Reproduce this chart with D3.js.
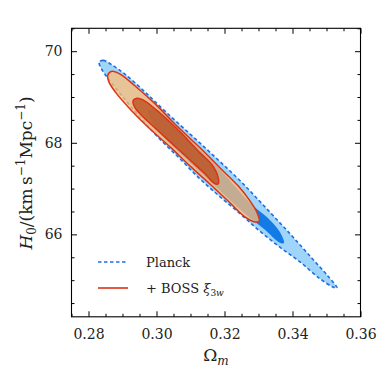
<!DOCTYPE html>
<html>
  <head>
    <meta charset="utf-8">
    <title></title>
    <style>
      body {
        margin: 0;
        background: #fff;
      }
      svg {
        display: block;
        font-family: "DejaVu Serif", "Liberation Serif", serif;
      }
      .axis .domain {
        stroke: none;
      }
      .axis line {
        stroke: #000;
      }
      .axis text {
        font-size: 14px;
        fill: #222;
        font-family: "DejaVu Serif", "Liberation Serif", serif;
      }
    </style>
  </head>
  <body>
    <div class="chart"></div>
    <script src="https://cdn.jsdelivr.net/npm/d3@7"></script>
    <script>

      // contour outlines, [Omega_m, H0]
      let planckOuter = [[0.2831,69.76],[0.2843,69.80],[0.2869,69.70],[0.2907,69.50],[0.2966,69.11],[0.3025,68.69],
        [0.3099,68.19],[0.3172,67.69],[0.3246,67.17],[0.3319,66.60],[0.3393,66.01],[0.3457,65.48],[0.3504,65.09],
        [0.3531,64.83],[0.3519,64.85],[0.3481,65.03],[0.3422,65.40],[0.3363,65.72],[0.3304,66.07],[0.3246,66.45],
        [0.3187,66.82],[0.3128,67.21],[0.3069,67.65],[0.3010,68.08],[0.2951,68.56],[0.2899,69.02],[0.2857,69.41],
        [0.2837,69.63]];
      let planckInner = [[0.2975,68.72],[0.3010,68.67],[0.3099,68.06],[0.3187,67.41],[0.3275,66.69],[0.3334,66.31],
        [0.3363,66.05],[0.3375,65.81],[0.3360,65.83],[0.3319,66.10],[0.3260,66.45],[0.3187,66.95],[0.3099,67.56],
        [0.3025,68.10],[0.2987,68.45]];
      let bossOuter = [[0.2857,69.48],[0.2869,69.56],[0.2893,69.50],[0.2937,69.24],[0.2996,68.85],[0.3054,68.41],
        [0.3128,67.89],[0.3187,67.45],[0.3240,67.06],[0.3275,66.73],[0.3296,66.47],[0.3302,66.29],[0.3290,66.27],
        [0.3260,66.38],[0.3216,66.69],[0.3157,67.10],[0.3099,67.49],[0.3040,67.91],[0.2981,68.30],[0.2922,68.74],
        [0.2881,69.09],[0.2860,69.33]];
      let bossInner = [[0.2931,68.91],[0.2943,68.97],[0.2966,68.91],[0.3010,68.65],[0.3069,68.24],[0.3128,67.78],
        [0.3163,67.52],[0.3181,67.25],[0.3181,67.10],[0.3169,67.12],[0.3143,67.32],[0.3099,67.62],[0.3040,68.02],
        [0.2996,68.32],[0.2957,68.59],[0.2937,68.76]];

      let xMajor = [0.28, 0.30, 0.32, 0.34, 0.36];
      let xMinor = [0.275, 0.285, 0.29, 0.295, 0.305, 0.31, 0.315, 0.325, 0.33, 0.335, 0.345, 0.35, 0.355];
      let yMajor = [66, 68, 70];
      let yMinor = [64.5, 65, 65.5, 66.5, 67, 67.5, 68.5, 69, 69.5, 70.5];

      let legendNames = ['Planck', '+ BOSS '];

      let elWidth = 390, elHeight = 390;
      let margin = {top: 28.3, right: 29.5, bottom: 73.2, left: 71.5};
      let width = elWidth - margin.left - margin.right;
      let height = elHeight - margin.top - margin.bottom;

      let svg = d3.select('.chart').append('svg')
        .attr('width', elWidth)
        .attr('height', elHeight);

      let g = svg.append('g').attr('transform', 'translate(' + margin.left + ',' + margin.top + ')');

      let x = d3.scaleLinear().domain([0.275, 0.36]).range([0, width]);
      let y = d3.scaleLinear().domain([64.2, 70.5]).range([height, 0]);

      let line = d3.line()
        .x(function(d) { return x(d[0]); })
        .y(function(d) { return y(d[1]); })
        .curve(d3.curveCatmullRomClosed.alpha(0.5));

      // Planck
      g.append('path').datum(planckOuter)
        .attr('fill', '#9fd5fa')
        .attr('d', line);
      g.append('path').datum(planckInner)
        .attr('fill', '#147ae6')
        .attr('d', line);
      g.append('path').datum(planckOuter)
        .attr('fill', 'none')
        .attr('stroke', '#1f6fe0')
        .attr('stroke-width', 1.6)
        .attr('stroke-dasharray', '3.5,2.5')
        .attr('d', line);

      // Planck + BOSS
      g.append('path').datum(bossOuter)
        .attr('fill', '#ffbe75')
        .attr('fill-opacity', 0.75)
        .attr('stroke', '#dd3214')
        .attr('stroke-width', 1.5)
        .attr('d', line);
      g.append('path').datum(bossInner)
        .attr('fill', '#bd5120')
        .attr('fill-opacity', 0.8)
        .attr('stroke', '#dd3214')
        .attr('stroke-width', 1.5)
        .attr('d', line);

      // axes, ticks pointing in
      g.append('g')
        .attr('class', 'axis')
        .attr('transform', 'translate(0,' + height + ')')
        .call(d3.axisBottom(x).tickValues(xMajor).tickSize(-5.5).tickPadding(12).tickFormat(d3.format('.2f')));
      g.append('g')
        .attr('class', 'axis')
        .attr('transform', 'translate(0,' + height + ')')
        .call(d3.axisBottom(x).tickValues(xMinor).tickSize(-3).tickFormat(''));
      g.append('g')
        .attr('class', 'axis')
        .call(d3.axisTop(x).tickValues(xMajor).tickSize(-5.5).tickFormat(''));
      g.append('g')
        .attr('class', 'axis')
        .call(d3.axisTop(x).tickValues(xMinor).tickSize(-3).tickFormat(''));

      g.append('g')
        .attr('class', 'axis')
        .call(d3.axisLeft(y).tickValues(yMajor).tickSize(-5.5).tickPadding(9).tickFormat(d3.format('d')));
      g.append('g')
        .attr('class', 'axis')
        .call(d3.axisLeft(y).tickValues(yMinor).tickSize(-3).tickFormat(''));
      g.append('g')
        .attr('class', 'axis')
        .attr('transform', 'translate(' + width + ',0)')
        .call(d3.axisRight(y).tickValues(yMajor).tickSize(-5.5).tickFormat(''));
      g.append('g')
        .attr('class', 'axis')
        .attr('transform', 'translate(' + width + ',0)')
        .call(d3.axisRight(y).tickValues(yMinor).tickSize(-3).tickFormat(''));

      g.append('rect')
        .attr('width', width)
        .attr('height', height)
        .attr('fill', 'none')
        .attr('stroke', '#000')
        .attr('stroke-width', 1.1);

      // axis labels
      let xl = svg.append('text')
        .attr('x', margin.left + width / 2)
        .attr('y', 361)
        .attr('text-anchor', 'middle')
        .attr('font-size', 17)
        .attr('fill', '#222');
      xl.append('tspan').text('Ω');
      xl.append('tspan').attr('font-style', 'italic').attr('font-size', 12).attr('dy', 4).text('m');

      let yl = svg.append('text')
        .attr('transform', 'translate(32,' + 173 + ') rotate(-90)')
        .attr('text-anchor', 'middle')
        .attr('font-size', 17)
        .attr('fill', '#222');
      yl.append('tspan').attr('font-style', 'italic').text('H');
      yl.append('tspan').attr('font-size', 12).attr('dy', 4).text('0');
      yl.append('tspan').attr('dy', -4).text('/(km\u2009s');
      yl.append('tspan').attr('font-size', 12).attr('dy', -7).text('\u22121');
      yl.append('tspan').attr('dy', 7).text('Mpc');
      yl.append('tspan').attr('font-size', 12).attr('dy', -7).text('\u22121');
      yl.append('tspan').attr('dy', 7).text(')');

      // legend
      let legend = g.append('g').attr('transform', 'translate(' + (98 - margin.left) + ',' + (262 - margin.top) + ')');
      legend.append('line')
        .attr('x1', 0).attr('x2', 30)
        .attr('stroke', '#1f6fe0')
        .attr('stroke-width', 1.6)
        .attr('stroke-dasharray', '3.5,2.5');
      legend.append('line')
        .attr('x1', 0).attr('x2', 30)
        .attr('y1', 26).attr('y2', 26)
        .attr('stroke', '#dd3214')
        .attr('stroke-width', 1.6);
      let names = legend.selectAll('text.name')
        .data(legendNames)
        .enter().append('text')
        .attr('class', 'name')
        .attr('x', 48)
        .attr('y', function(d, i) { return 5 + i * 26; })
        .attr('font-size', 13)
        .attr('fill', '#222')
        .attr('xml:space', 'preserve')
        .text(function(d) { return d; });
      let boss = names.filter(function(d, i) { return i === 1; });
      boss.append('tspan').attr('font-style', 'italic').text('ξ');
      boss.append('tspan').attr('font-size', 9).attr('dy', 3).text('3');
      boss.append('tspan').attr('font-size', 9).attr('font-style', 'italic').text('w');

    </script>
  </body>
</html>
